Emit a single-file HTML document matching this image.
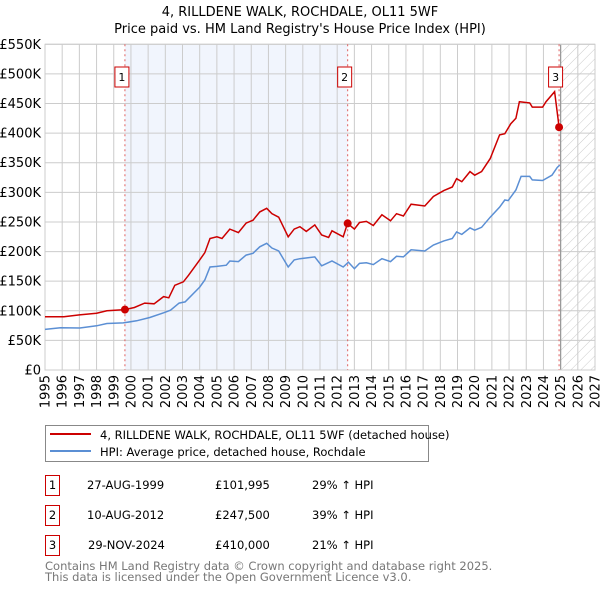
<!DOCTYPE html>
<html><head><meta charset="utf-8"><style>
body{margin:0;background:#fff;font-family:"Liberation Sans","DejaVu Sans",sans-serif;}
svg text{font-family:"DejaVu Sans","Liberation Sans",sans-serif;}
</style></head><body>
<svg id="chart" width="600" height="590" xmlns="http://www.w3.org/2000/svg">
<defs>
<pattern id="hatch" patternUnits="userSpaceOnUse" width="7" height="7" patternTransform="rotate(45)">
<line x1="0" y1="0" x2="0" y2="7" stroke="#ccc" stroke-width="1"/></pattern>
</defs>
<text x="300" y="16" text-anchor="middle" font-size="13">4, RILLDENE WALK, ROCHDALE, OL11 5WF</text>
<text x="300" y="33" text-anchor="middle" font-size="13">Price paid vs. HM Land Registry's House Price Index (HPI)</text>
<g id="plot"></g>
<g>
<rect x="45.5" y="425.5" width="383" height="36" fill="#fff" stroke="#888"/>
<line x1="50" y1="434" x2="91" y2="434" stroke="#cc0000" stroke-width="2"/>
<text x="100" y="439" font-size="11.5">4, RILLDENE WALK, ROCHDALE, OL11 5WF (detached house)</text>
<line x1="50" y1="451" x2="91" y2="451" stroke="#5b8fd4" stroke-width="2"/>
<text x="100" y="456" font-size="11.5">HPI: Average price, detached house, Rochdale</text>
</g>
<g font-size="11.5">
<rect x="45.5" y="475.5" width="14" height="20" fill="#fff" stroke="#cc0000"/><text x="52.5" y="489" text-anchor="middle">1</text>
<text x="87" y="489">27-AUG-1999</text><text x="215" y="489">£101,995</text><text x="312" y="489">29% ↑ HPI</text>
<rect x="45.5" y="505.5" width="14" height="20" fill="#fff" stroke="#cc0000"/><text x="52.5" y="519" text-anchor="middle">2</text>
<text x="87" y="519">10-AUG-2012</text><text x="215" y="519">£247,500</text><text x="312" y="519">39% ↑ HPI</text>
<rect x="45.5" y="535.5" width="14" height="20" fill="#fff" stroke="#cc0000"/><text x="52.5" y="549" text-anchor="middle">3</text>
<text x="88" y="549">29-NOV-2024</text><text x="215" y="549">£410,000</text><text x="312" y="549">21% ↑ HPI</text>
</g>
<text x="45" y="570" font-size="11.5" fill="#777">Contains HM Land Registry data © Crown copyright and database right 2025.</text>
<text x="45" y="581" font-size="11.5" fill="#777">This data is licensed under the Open Government Licence v3.0.</text>
</svg>
<script>
const hpiYears=[1995,1995.9,1997.03,1998,1998.6,1999.55,2000.33,2001.1,2001.9,2002.3,2002.8,2003.15,2004,2004.3,2004.6,2005,2005.55,2005.75,2006.25,2006.7,2007.1,2007.5,2007.9,2008.2,2008.6,2009.15,2009.5,2009.83,2010.7,2011.1,2011.7,2012.35,2012.65,2013,2013.3,2013.7,2014.1,2014.6,2015.1,2015.45,2015.85,2016.3,2017.1,2017.6,2018.2,2018.7,2018.95,2019.25,2019.73,2020,2020.4,2020.9,2021.45,2021.75,2021.95,2022.4,2022.7,2023.2,2023.35,2023.95,2024.5,2024.8,2024.95];
const hpiValues=[68.6,71.4,71,74.6,78.5,79.6,83,88.7,96.6,101,113,115,140,152,174,175,177,184,183,194,197,208,214,206,201,174,186,188,191,176,184,174,182,171,180,181,178,188,183,192,191,203,201,211,218,222,233,229,240,236,241,258,275,287,286,304,327,327,321,320,329,342,346];
const priceYears=[1995,1996.1,1997,1998,1998.6,1999.65,2000.2,2000.8,2001.35,2001.9,2002.2,2002.55,2003.05,2003.35,2004,2004.3,2004.6,2005,2005.3,2005.75,2006.25,2006.7,2007.1,2007.5,2007.9,2008.2,2008.6,2009.15,2009.5,2009.83,2010.2,2010.7,2011.1,2011.5,2011.7,2012.35,2012.6,2013,2013.3,2013.7,2014.1,2014.6,2015.1,2015.45,2015.85,2016.3,2017.1,2017.6,2018.2,2018.7,2018.95,2019.25,2019.73,2020,2020.4,2020.9,2021.45,2021.75,2022.1,2022.4,2022.6,2023.2,2023.35,2023.95,2024.15,2024.65,2024.91];
const priceValues=[90,90,93,96,100,101.995,105.6,113,111.8,124,122,143,149,160,186,198,222,225,222,238,232,248,253,267,273,264,258,225,238,242,234,245,228,224,235,225,247.5,238,249,251,244,262,252,264,260,280,277,293,303,309,323,318,335,329,335,357,397,399,416,425,453,451,444,444,453,470,410];
const saleYears=[1999.65,2012.61,2024.91];
const saleValues=[101.995,247.5,410];
const saleLabels=["1","2","3"];
const yTicks=[0,50,100,150,200,250,300,350,400,450,500,550];
const yTickLabels=["£0","£50K","£100K","£150K","£200K","£250K","£300K","£350K","£400K","£450K","£500K","£550K"];
const xTicks=[1995,1996,1997,1998,1999,2000,2001,2002,2003,2004,2005,2006,2007,2008,2009,2010,2011,2012,2013,2014,2015,2016,2017,2018,2019,2020,2021,2022,2023,2024,2025,2026,2027];

const L=45,R=595,T=44.3,B=370,X0=1995,X1=2027,Y1=550;
const xs=v=>L+(v-X0)/(X1-X0)*(R-L);
const ys=v=>B-v/Y1*(B-T);
const NS="http://www.w3.org/2000/svg";
const g=document.getElementById('plot');
function mk(t,a){const e=document.createElementNS(NS,t);for(const k in a)e.setAttribute(k,a[k]);g.appendChild(e);return e;}
// shaded span
let sh=mk('rect',{x:xs(saleYears[0]),y:T,width:xs(saleYears[1])-xs(saleYears[0]),height:B-T,fill:'#eef3fc',opacity:0.8});


let hz=mk('rect',{x:xs(2025),y:T,width:R-xs(2025),height:B-T,fill:'url(#hatch)'});


// grid
yTicks.forEach((v,i)=>{
 let l=mk('line',{x1:L,x2:R,y1:ys(v),y2:ys(v),stroke:'#ccc','stroke-width':1});
 
 
 let t=mk('text',{x:L-4,y:ys(v)+4.5,'text-anchor':'end','font-size':13});
 
 
 t.textContent=yTickLabels[i];
});
xTicks.forEach(v=>{
 let l=mk('line',{x1:xs(v),x2:xs(v),y1:T,y2:B,stroke:'#ccc','stroke-width':1});
 
 
 let t=mk('text',{x:0,y:0,'font-size':13,transform:`translate(${xs(v)+4.5},${B+5}) rotate(-90)`,'text-anchor':'end'});
 
 
 t.textContent=v;
});
let nl=mk('line',{x1:xs(2025),x2:xs(2025),y1:T,y2:B,stroke:'#999','stroke-width':1.2});


let fr=mk('rect',{x:L,y:T,width:R-L,height:B-T,fill:'none',stroke:'#ccc'});


saleYears.forEach(v=>{
 let l=mk('line',{x1:xs(v),x2:xs(v),y1:T,y2:B,stroke:'#e06060','stroke-width':1,'stroke-dasharray':'2,3'});
 
 
});
function path(xa,ya){return xa.map((x,i)=>(i?'L':'M')+xs(x).toFixed(1)+','+ys(ya[i]).toFixed(1)).join('');}
let hp=mk('path',{d:path(hpiYears,hpiValues),fill:'none',stroke:'#5b8fd4','stroke-width':1.5});


let pp=mk('path',{d:path(priceYears,priceValues),fill:'none',stroke:'#cc0000','stroke-width':1.5});


saleYears.forEach((v,i)=>{
 let c=mk('circle',{cx:xs(v),cy:ys(saleValues[i]),r:4,fill:'#cc0000'});
 
 
 let bx=xs(v)-(i==2?3.5:3)-7;
 let r=mk('rect',{x:bx,y:67,width:14,height:20,fill:'#fff',stroke:'#cc0000'});
 
 
 let t=mk('text',{x:bx+7,y:81,'text-anchor':'middle','font-size':11});
 
 
 t.textContent=saleLabels[i];
});
</script>
</body></html>
